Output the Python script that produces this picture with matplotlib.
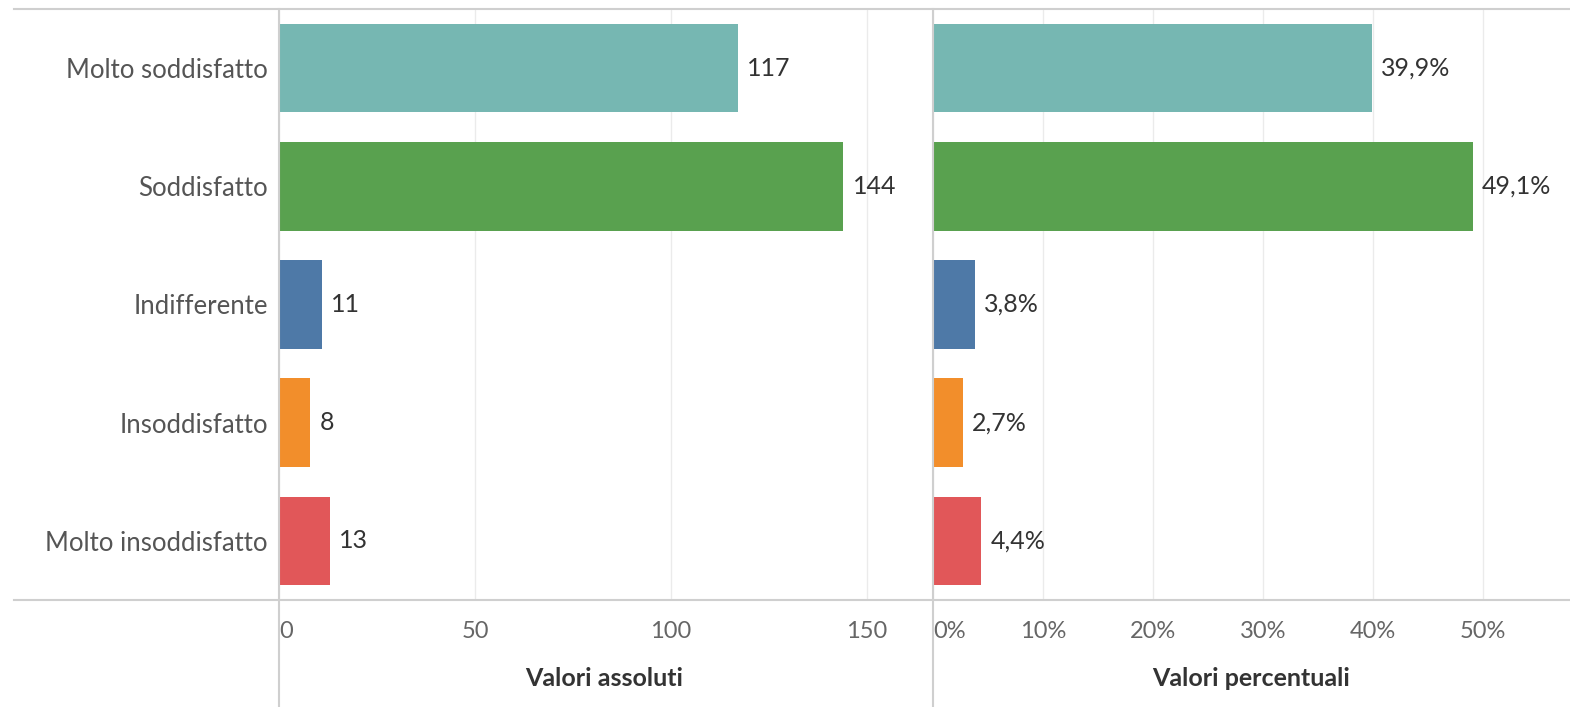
import matplotlib
matplotlib.use("Agg")
import matplotlib.pyplot as plt
from matplotlib.lines import Line2D

# --- Data ---
categories = ["Molto soddisfatto", "Soddisfatto", "Indifferente",
              "Insoddisfatto", "Molto insoddisfatto"]
counts = [117, 144, 11, 8, 13]
percents = [39.9, 49.1, 3.8, 2.7, 4.4]
colors = ["#76B7B2", "#59A14F", "#4E79A7", "#F28E2B", "#E15759"]
abs_ticks = [0, 50, 100, 150]
pct_ticks = [0, 10, 20, 30, 40, 50]

plt.rcParams["font.family"] = ["Lato", "DejaVu Sans"]

W, H = 1570, 707
fig = plt.figure(figsize=(W / 100, H / 100), dpi=100)

top, bottom = 9, 600
ax1 = fig.add_axes([279 / W, (H - bottom) / H, (929 - 279) / W, (bottom - top) / H])
ax2 = fig.add_axes([933 / W, (H - bottom) / H, (W - 933) / W, (bottom - top) / H])

ypos = list(range(len(categories)))

def style(ax, ticks, labels, xmax, title):
    ax.set_xlim(0, xmax)
    ax.set_ylim(len(categories) - 0.5, -0.5)
    for s in ax.spines.values():
        s.set_visible(False)
    ax.set_xticks(ticks)
    ax.set_xticklabels(labels)
    # first label sticks to the pane edge, the rest are centred
    ax.get_xticklabels()[0].set_horizontalalignment("left")
    ax.tick_params(axis="x", length=0, pad=15, labelsize=17, labelcolor="#666666")
    ax.grid(axis="x", color="#ebebeb", linewidth=1)
    ax.set_axisbelow(True)
    ax.set_xlabel(title, fontsize=18, fontweight="bold", color="#333333", labelpad=18)

# left panel: absolute values
ax1.barh(ypos, counts, height=0.75, color=colors)
for y, v in zip(ypos, counts):
    ax1.annotate(str(v), (v, y), xytext=(6.5, 0), textcoords="offset points",
                 va="center", ha="left", fontsize=18, color="#333333")
style(ax1, abs_ticks, [str(t) for t in abs_ticks], 650 / 3.92, "Valori assoluti")
ax1.set_yticks(ypos)
ax1.set_yticklabels(categories)
ax1.tick_params(axis="y", length=0, pad=8, labelsize=18.5, labelcolor="#555555")

# right panel: percentages
ax2.barh(ypos, percents, height=0.75, color=colors)
for y, v in zip(ypos, percents):
    ax2.annotate(f"{v:.1f}%".replace(".", ","), (v, y), xytext=(6.5, 0),
                 textcoords="offset points", va="center", ha="left",
                 fontsize=18, color="#333333")
style(ax2, pct_ticks, [f"{t}%" for t in pct_ticks], (W - 933) / 11.0, "Valori percentuali")
ax2.set_yticks([])

# separator lines (Tableau-like frame)
lc = "#cfcfcf"
fig.add_artist(Line2D([14 / W, 1], [1 - top / H, 1 - top / H], color=lc, lw=1.5))
fig.add_artist(Line2D([14 / W, 1], [1 - bottom / H, 1 - bottom / H], color=lc, lw=1.5))
for x in (279, 933):
    fig.add_artist(Line2D([x / W, x / W], [0, 1 - top / H], color=lc, lw=1.5))

fig.savefig("out.png", dpi=100)
